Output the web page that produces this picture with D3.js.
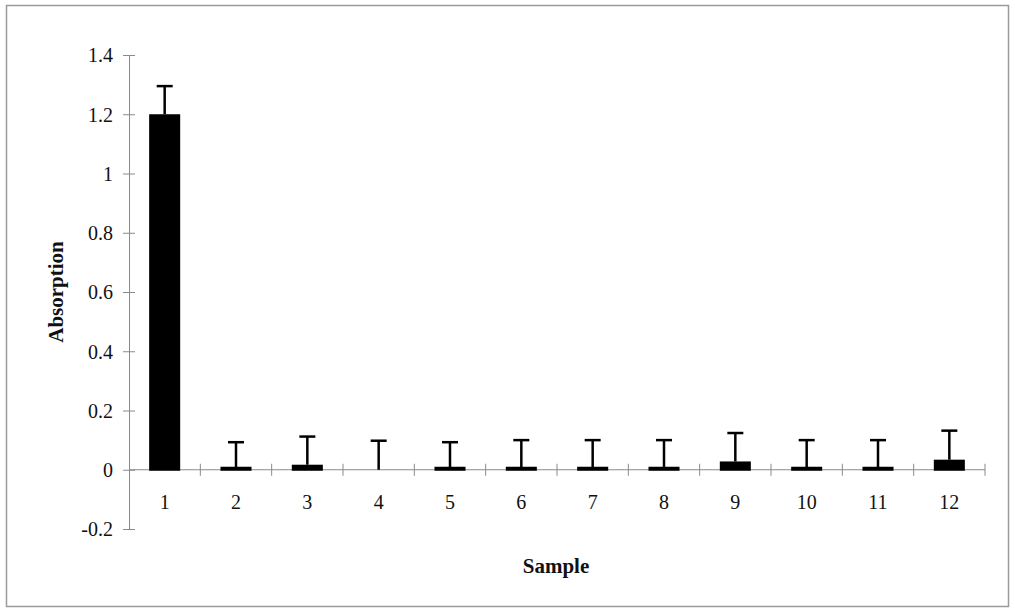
<!DOCTYPE html>
<html>
<head>
<meta charset="utf-8">
<script src="https://cdn.jsdelivr.net/npm/d3@7"></script>
<style>
  body { margin: 0; background: #fff; }
  svg text { font-family: "Liberation Serif", "Times New Roman", serif; fill: #111; }
</style>
</head>
<body>
<div id="chart"></div>
<script>
var width = 1015;
var height = 613;

// data
var samples = ["1", "2", "3", "4", "5", "6", "7", "8", "9", "10", "11", "12"];
var absorption = [1.2, 0.004, 0.017, 0, 0.003, 0.007, 0.007, 0.007, 0.028, 0.006, 0.006, 0.034];
var errors = [0.095, 0.089, 0.095, 0.098, 0.09, 0.093, 0.093, 0.093, 0.096, 0.094, 0.094, 0.098];
var yTicks = [-0.2, 0, 0.2, 0.4, 0.6, 0.8, 1, 1.2, 1.4];

var svg = d3.select("#chart")
  .append("svg")
  .attr("width", width)
  .attr("height", height)

// outer frame
svg.append("rect")
  .attr("x", 6.5).attr("y", 5.5)
  .attr("width", 1002).attr("height", 601)
  .attr("fill", "none")
  .attr("stroke", "#9a9a9a")
  .attr("stroke-width", 1.5)

const y = d3.scaleLinear()
  .domain([-0.2, 1.4])
  .range([529, 55])

const x = d3.scaleBand()
  .domain(samples)
  .range([129, 985])
  .paddingInner(0.565)
  .paddingOuter(0.2825)

// boundary ticks on the category axis
const xEdge = d3.scaleLinear().domain([0, 12]).range([129, 985])

// y axis
const yAxis = svg.append("g")
  .attr("transform", "translate(129,0)")
  .call(d3.axisLeft(y).tickValues(yTicks).tickSize(6).tickFormat(d => String(+d.toFixed(1))))
yAxis.select(".domain").attr("stroke", "#8a8a8a")
yAxis.selectAll(".tick line").attr("stroke", "#8a8a8a").attr("x2", 6).attr("x1", -6)
yAxis.selectAll(".tick text")
  .attr("x", -16)
  .attr("dy", "0.34em")
  .style("font-size", "20px")

// x axis line at zero
svg.append("line")
  .attr("x1", 129).attr("x2", 985)
  .attr("y1", y(0)).attr("y2", y(0))
  .attr("stroke", "#8a8a8a")

svg.append("g")
  .selectAll("line")
  .data(d3.range(1, 13))
  .join("line")
    .attr("x1", d => xEdge(d)).attr("x2", d => xEdge(d))
    .attr("y1", y(0) - 6).attr("y2", y(0) + 6)
    .attr("stroke", "#8a8a8a")

// x labels
svg.append("g")
  .selectAll("text")
  .data(samples)
  .join("text")
    .attr("x", d => x(d) + x.bandwidth() / 2)
    .attr("y", 509)
    .attr("text-anchor", "middle")
    .style("font-size", "20px")
    .text(d => d)

// bars
svg.append("g")
  .selectAll("rect")
  .data(samples)
  .join("rect")
    .attr("x", d => x(d))
    .attr("width", x.bandwidth())
    .attr("y", (d, i) => Math.min(y(absorption[i]), y(0) - 3))
    .attr("height", (d, i) => absorption[i] > 0 ? Math.max(y(0) - y(absorption[i]), 3) + 1 : 0)
    .attr("fill", "#000")

// error bars (upper only)
const capW = 16;
const eb = svg.append("g").attr("stroke", "#000").attr("stroke-width", 2.5)
eb.selectAll(".stem")
  .data(samples)
  .join("line")
    .attr("class", "stem")
    .attr("x1", d => x(d) + x.bandwidth() / 2)
    .attr("x2", d => x(d) + x.bandwidth() / 2)
    .attr("y1", (d, i) => y(absorption[i]))
    .attr("y2", (d, i) => y(absorption[i] + errors[i]))
eb.selectAll(".cap")
  .data(samples)
  .join("line")
    .attr("class", "cap")
    .attr("x1", d => x(d) + x.bandwidth() / 2 - capW / 2)
    .attr("x2", d => x(d) + x.bandwidth() / 2 + capW / 2)
    .attr("y1", (d, i) => y(absorption[i] + errors[i]))
    .attr("y2", (d, i) => y(absorption[i] + errors[i]))

// axis titles
svg.append("text")
  .attr("x", 556)
  .attr("y", 573)
  .attr("text-anchor", "middle")
  .style("font-size", "21px")
  .style("font-weight", "bold")
  .text("Sample")

svg.append("text")
  .attr("transform", "translate(63,292) rotate(-90)")
  .attr("text-anchor", "middle")
  .style("font-size", "21px")
  .style("font-weight", "bold")
  .text("Absorption")
</script>
</body>
</html>
